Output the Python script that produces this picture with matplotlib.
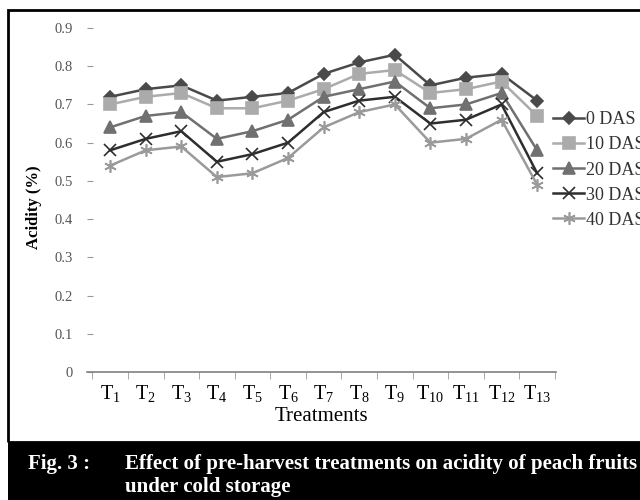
import numpy as np
import matplotlib
matplotlib.use("Agg")
import matplotlib.pyplot as plt
from matplotlib.patches import Rectangle

plt.rcParams['font.family'] = ['Liberation Serif', 'DejaVu Serif']
plt.rcParams['mathtext.fontset'] = 'custom'
plt.rcParams['mathtext.rm'] = 'Liberation Serif'
plt.rcParams['mathtext.it'] = 'Liberation Serif'

# values
treatments = [r'T$_{%d}$' % i for i in range(1, 14)]
das_labels = ['0 DAS', '10 DAS', '20 DAS', '30 DAS', '40 DAS']
das0 = [0.72, 0.74, 0.75, 0.71, 0.72, 0.73, 0.78, 0.81, 0.83, 0.75, 0.77, 0.78, 0.71]
das10 = [0.70, 0.72, 0.73, 0.69, 0.69, 0.71, 0.74, 0.78, 0.79, 0.73, 0.74, 0.76, 0.67]
das20 = [0.64, 0.67, 0.68, 0.61, 0.63, 0.66, 0.72, 0.74, 0.76, 0.69, 0.70, 0.73, 0.58]
das30 = [0.58, 0.61, 0.63, 0.55, 0.57, 0.60, 0.68, 0.71, 0.72, 0.65, 0.66, 0.70, 0.52]
das40 = [0.54, 0.58, 0.59, 0.51, 0.52, 0.56, 0.64, 0.68, 0.70, 0.60, 0.61, 0.66, 0.49]
yticks = [0, 0.1, 0.2, 0.3, 0.4, 0.5, 0.6, 0.7, 0.8, 0.9]

series = [das0, das10, das20, das30, das40]
colors = ['#4a4a4a', '#ababab', '#707070', '#2e2e2e', '#9a9a9a']
markers = ['D', 's', '^', 'x', (6, 2, 0)]
msizes = [6, 8, 8, 9, 9]

fig = plt.figure(figsize=(6.4, 5.0), dpi=100)
ax = fig.add_axes([87 / 640, 1 - 372 / 500, 469 / 640, 344 / 500])

x = np.arange(len(treatments))
for vals, lab, c, m, ms in zip(series, das_labels, colors, markers, msizes):
    ax.plot(x, vals, color=c, marker=m, markersize=ms, linewidth=1.8,
            markeredgewidth=1.2, label=lab)

ax.set_ylim(0, 0.9)
ax.set_xlim(-0.65, 12.53)
ax.set_yticks(yticks)
ax.set_yticklabels(['0'] + ['%.1f' % v for v in yticks[1:]])
ax.set_xticks(x)
ax.set_xticklabels(treatments)
ax.set_xticks(np.arange(-0.5, 12.6, 1), minor=True)

for s in ['top', 'right', 'left']:
    ax.spines[s].set_visible(False)
ax.spines['bottom'].set_color('#808080')
ax.spines['bottom'].set_linewidth(1.2)

ax.tick_params(axis='y', direction='in', length=4, color='#999999',
               labelsize=10.5, labelcolor='#555555', pad=10)
ax.tick_params(axis='x', which='major', length=0, labelsize=14.5, pad=8)
ax.tick_params(axis='x', which='minor', direction='out', length=5,
               color='#999999')

ax.set_xlabel('Treatments', fontsize=15, labelpad=2)
ax.set_ylabel('Acidity (%)', fontsize=12, fontweight='bold', labelpad=6)
ax.yaxis.set_label_coords(-0.095, 0.48)

fig.legend(loc='center left', bbox_to_anchor=(537 / 640, 1 - 170 / 500),
           frameon=False, fontsize=13, handlelength=1.7, handletextpad=0.1,
           labelspacing=0.45, labelcolor='#333333')

# frame and caption band
fig.patches.append(Rectangle((8 / 640, 58 / 500), 1.0, 1 - 10 / 500 - 58 / 500,
                             transform=fig.transFigure, fill=False,
                             edgecolor='black', linewidth=2, zorder=0))
fig.patches.append(Rectangle((8 / 640, 0), 1.0, 58 / 500,
                             transform=fig.transFigure, facecolor='black',
                             edgecolor='none', zorder=0))
fig.text(28 / 640, 1 - 469 / 500, 'Fig. 3 :', color='white', fontsize=15,
         fontweight='bold', va='baseline')
fig.text(125 / 640, 1 - 469 / 500,
         'Effect of pre-harvest treatments on acidity of peach fruits',
         color='white', fontsize=15, fontweight='bold', va='baseline')
fig.text(125 / 640, 1 - 492 / 500, 'under cold storage', color='white',
         fontsize=15, fontweight='bold', va='baseline')

fig.savefig('out.png', dpi=100)
